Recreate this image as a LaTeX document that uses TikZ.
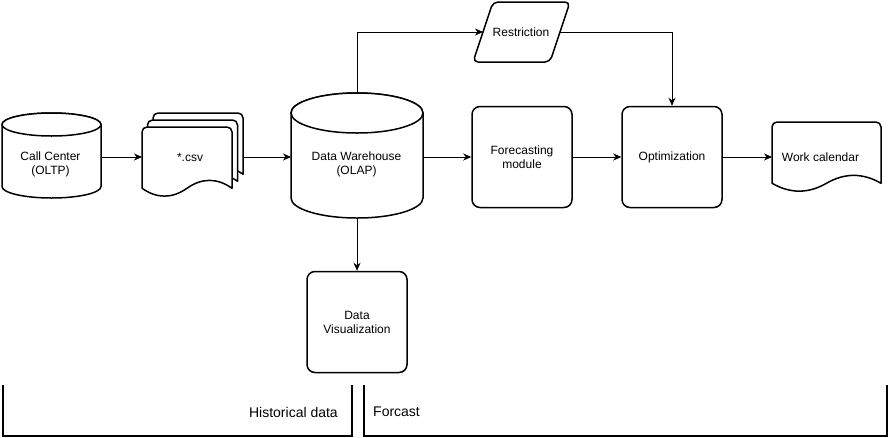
\documentclass[tikz,border=0pt]{standalone}
\usepackage{fontspec}
\setmainfont{Liberation Sans}
\usetikzlibrary{arrows.meta}
\newcommand{\docshape}[4]{%
\pgfmathsetmacro{\dxa}{#1}%
\pgfmathsetmacro{\dxb}{#1+#3}%
\pgfmathsetmacro{\dxm}{#1+#3/2}%
\pgfmathsetmacro{\dxc}{#1+5*#3/6}%
\pgfmathsetmacro{\dxd}{#1+2*#3/3}%
\pgfmathsetmacro{\dxe}{#1+#3/3}%
\pgfmathsetmacro{\dxf}{#1+#3/6}%
\pgfmathsetmacro{\dyt}{#2}%
\pgfmathsetmacro{\dye}{#2+0.875*#4}%
\pgfmathsetmacro{\dyu}{#2+0.725*#4}%
\pgfmathsetmacro{\dyl}{#2+1.025*#4}%
\draw[shp] (\dxa,\dye) -- (\dxa,\dyt+5) arc[start angle=180,end angle=90,radius=5pt] -- (\dxb-5,\dyt) arc[start angle=90,end angle=0,radius=5pt] -- (\dxb,\dye) .. controls (\dxc,\dyu) and (\dxd,\dyu) .. (\dxm,\dye) .. controls (\dxe,\dyl) and (\dxf,\dyl) .. (\dxa,\dye) -- cycle;}
\begin{document}
\begin{tikzpicture}[x=1pt,y=-1pt,
  txt/.style={font=\fontsize{12}{14}\selectfont, align=center, inner sep=0pt},
  big/.style={font=\fontsize{14}{16}\selectfont, inner sep=0pt},
  shp/.style={draw=black, line width=1.5pt, fill=white, line join=round},
  box/.style={shp, rounded corners=8pt, minimum width=100pt, minimum height=101pt, inner sep=0pt, font=\fontsize{12}{14}\selectfont, align=center},
  ghost/.style={inner sep=0pt, outer sep=0pt},
  conn/.style={line width=0.9pt, -{Stealth[length=8pt,width=7pt,inset=2.5pt]}},
  brk/.style={line width=1.3pt, line cap=rect}]
\fill[white] (0,0) rectangle (890,437);
\useasboundingbox (0,0) rectangle (890,437);

% Call Center cylinder
\draw[shp] (2,124.5) -- (2,186.5) arc[start angle=180,end angle=360,x radius=49.5pt,y radius=11.5pt] -- (101,124.5) arc[start angle=0,end angle=180,x radius=49.5pt,y radius=11.5pt] -- cycle;
\draw[shp] (51.5,124.5) ellipse[x radius=49.5pt,y radius=11.5pt];
\node[ghost, minimum width=99pt, minimum height=80pt] (cc) at (51.5,157) {};
\node[txt] (cct) at (50.5,164.5) {Call Center\\(OLTP)};

% csv multi document
\docshape{153}{113}{90}{70}
\docshape{147.5}{120}{90}{70}
\docshape{142}{127}{90}{70}
\node[ghost, minimum width=101pt, minimum height=80pt] (csv) at (192.5,157) {};
\node[txt] (csvt) at (190,157) {*.csv};

% Data Warehouse cylinder
\draw[shp] (291,113) -- (291,198) arc[start angle=180,end angle=360,x radius=66pt,y radius=20pt] -- (423,113) arc[start angle=0,end angle=180,x radius=66pt,y radius=20pt] -- cycle;
\draw[shp] (357,113) ellipse[x radius=66pt,y radius=20pt];
\node[ghost, minimum width=132pt, minimum height=125pt] (dw) at (357,155.5) {};
\node[txt] (dwt) at (356.5,164) {Data Warehouse\\(OLAP)};

% Restriction
\draw[shp, rounded corners=5pt] (473,62) -- (493,2) -- (570,2) -- (550,62) -- cycle;
\node[ghost, minimum width=77pt, minimum height=60pt] (res) at (521.5,32) {};
\node[txt] (rest) at (521,32) {Restriction};

% boxes
\node[box] (fc) at (522,157) {Forecasting\\module};
\node[box] (opt) at (672,157) {Optimization};
\node[box] (dv) at (357,322) {Data\\Visualization};

% Work calendar
\docshape{772}{122}{109}{70}
\node[ghost, minimum width=109pt, minimum height=70pt] (wc) at (826.5,157) {};
\node[txt] (wct) at (820.5,157) {Work calendar};

% connectors
\draw[conn] (cc.east) -- (cc.east -| csv.west);
\draw[conn] (csv.east) -- (csv.east -| dw.west);
\draw[conn] (dw.east |- fc.west) -- (fc.west);
\draw[conn] (fc.east) -- (opt.west);
\draw[conn] (opt.east) -- (wc.west);
\draw[conn] (dw.south) -- (dv.north);
\draw[conn] (dw.north) |- (res.west);
\draw[conn] (res.east) -| (opt.north);

% brackets
\draw[brk] (3,386) -- (3,436) -- (352,436) -- (352,386);
\draw[brk] (364,386) -- (364,436) -- (887,436) -- (887,386);
\node[big, anchor=east] (hist) at (338,412) {Historical data};
\node[big, anchor=west] (forc) at (373,412) {Forcast};
\end{tikzpicture}
\end{document}
